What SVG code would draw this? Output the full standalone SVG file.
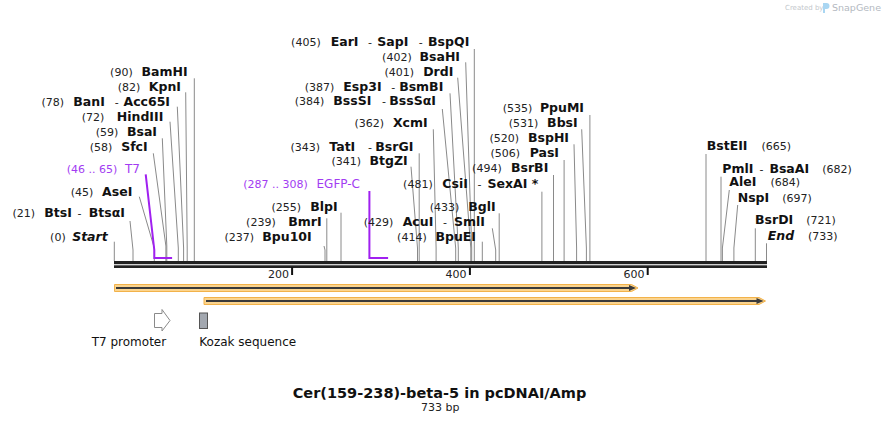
<svg xmlns="http://www.w3.org/2000/svg" width="882" height="424" viewBox="0 0 882 424">
<style>
text{font-family:"DejaVu Sans",Verdana,sans-serif}
.n{font-size:11px;font-weight:normal;font-style:normal;fill:#222}
.b{font-size:12.5px;font-weight:bold;fill:#111}
.bi{font-size:12.5px;font-weight:bold;font-style:italic;fill:#111}
.d{font-size:11px;fill:#222}
.pn{font-size:11px;fill:#a23cf2}
.pb{font-size:12px;fill:#a23cf2}
.e{text-anchor:end}
.m{text-anchor:middle}
.l{fill:none;stroke:#8a8a8a;stroke-width:1}
.pl{fill:none;stroke:#a020f0;stroke-width:2}
.tk{stroke:#111;stroke-width:2}
.ft{fill:#fbd48e;stroke:#f2b24a;stroke-width:1}
.fl{stroke:#3a3a3a;stroke-width:2}
.fh{fill:#3a3a3a}
.lab{font-size:12px;fill:#111}
</style>
<rect width="882" height="424" fill="#fff"/>
<g id="watermark">
<text x="785" y="10" style="font-size:7px;fill:#c4c8cc">Created by</text>
<path d="M823 3h3.5a3 3 0 0 1 0 6h-1.5v4h-2z" fill="#a9d6f2"/>
<text x="832" y="11" style="font-size:9.5px;fill:#b4b9bf">SnapGene</text>
</g>
<g id="connectors">
<path class="l" d="M114.3 241.7V261"/>
<path class="l" d="M130 221L133 250V261"/>
<path class="l" d="M139.3 196.7L154.3 248V261"/>
<path class="l" d="M153.3 153.3L165.9 246V261"/>
<path class="l" d="M162.3 138.3L166.8 246V261"/>
<path class="l" d="M170 121.7L178.3 248V261"/>
<path class="l" d="M177.3 106.7L183.6 248V261"/>
<path class="l" d="M185.7 92.3L187.2 248V261"/>
<path class="l" d="M194.3 78.3V261"/>
<path class="l" d="M324 246L325 250V261"/>
<path class="l" d="M326.8 218.3V261"/>
<path class="l" d="M341 212.7V261"/>
<path class="l" d="M411 166.7L417.5 248V261"/>
<path class="l" d="M419.2 153.3V261"/>
<path class="l" d="M433.3 129.3L436.1 248V261"/>
<path class="l" d="M442.3 109L455.7 248V261"/>
<path class="l" d="M450 93.3L458.3 248V261"/>
<path class="l" d="M457.7 77.7L470.8 248V261"/>
<path class="l" d="M465.7 62.3L471.7 248V261"/>
<path class="l" d="M474.3 49V261"/>
<path class="l" d="M482.3 241.7V261"/>
<path class="l" d="M492.3 228.3L495.7 250V261"/>
<path class="l" d="M499.2 213.3V261"/>
<path class="l" d="M541.9 191.7V261"/>
<path class="l" d="M553.5 175V261"/>
<path class="l" d="M564.1 160V261"/>
<path class="l" d="M574 144.3L576.6 248V261"/>
<path class="l" d="M581.7 129.3L586.4 248V261"/>
<path class="l" d="M589.9 115V261"/>
<path class="l" d="M706 154V261"/>
<path class="l" d="M721 176.7V261"/>
<path class="l" d="M729.3 190L722.4 248V261"/>
<path class="l" d="M737.7 205L733.9 248V261"/>
<path class="l" d="M755.3 228.3V261"/>
<path class="l" d="M766.5 243.3V261"/>
<path class="pl" d="M145.7 174.3L154.3 250V258H172.1"/>
<path class="pl" d="M369.4 191V258H388.1"/>
</g>
<g id="backbone">
<rect x="114" y="261" width="653" height="3.2" fill="#222"/>
<rect x="114" y="265.3" width="653" height="2.7" fill="#222"/>
<path class="tk" d="M292.1 267V275M469.9 267V275M647.7 267V275"/>
<text class="d e" x="289" y="277.5">200</text>
<text class="d e" x="466.5" y="277.5">400</text>
<text class="d e" x="644.5" y="277.5">600</text>
</g>
<g id="feature1">
<path class="ft" d="M114.5 284.5H631.5L638 288L631.5 291.5H114.5Z"/>
<path class="fl" d="M116 288H631"/>
<path class="fh" d="M629 285L636 288L629 291Z"/>
</g>
<g id="feature2">
<path class="ft" d="M204 297.5H759L765.5 301L759 304.5H204Z"/>
<path class="fl" d="M206 301H758"/>
<path class="fh" d="M756.5 298L763.5 301L756.5 304Z"/>
</g>
<g id="t7promoter">
<path d="M154.5 313.5H162V309.5L170 320.5L162 331V327.5H154.5Z" fill="#fff" stroke="#8a8a8a" stroke-width="1"/>
<text class="lab" x="91.7" y="346">T7 promoter</text>
</g>
<g id="kozak">
<rect x="199.5" y="313" width="8" height="15.5" fill="#a3a8b0" stroke="#555" stroke-width="1"/>
<text class="lab" x="199.3" y="346">Kozak sequence</text>
</g>
<g id="site-start"><text class="n e" x="65.7" y="241">(0)</text><text class="bi e" x="107.7" y="241">Start</text></g>
<g id="site-btsi"><text class="n e" x="35" y="217">(21)</text><text class="b" x="44.3" y="217">BtsI</text><text class="n m" x="79.5" y="217">-</text><text class="b e" x="125" y="217">BtsαI</text></g>
<g id="site-asei"><text class="n e" x="93.3" y="196">(45)</text><text class="b e" x="132.3" y="196">AseI</text></g>
<g id="feat-t7"><text class="pn e" x="117.3" y="172.5">(46 .. 65)</text><text class="pb e" x="140" y="172.5">T7</text></g>
<g id="site-sfci"><text class="n e" x="112.3" y="151">(58)</text><text class="b e" x="147.7" y="151">SfcI</text></g>
<g id="site-bsai"><text class="n e" x="118.3" y="136">(59)</text><text class="b e" x="157" y="136">BsaI</text></g>
<g id="site-hindiii"><text class="n e" x="104.3" y="121">(72)</text><text class="b e" x="163.3" y="121">HindIII</text></g>
<g id="site-bani"><text class="n e" x="64" y="106">(78)</text><text class="b" x="73.3" y="106">BanI</text><text class="n m" x="116.7" y="106">-</text><text class="b e" x="170" y="106">Acc65I</text></g>
<g id="site-kpni"><text class="n e" x="140.3" y="91">(82)</text><text class="b e" x="181" y="91">KpnI</text></g>
<g id="site-bamhi"><text class="n e" x="132.7" y="76">(90)</text><text class="b e" x="187.7" y="76">BamHI</text></g>
<g id="site-bpu10i"><text class="n e" x="254" y="241">(237)</text><text class="b e" x="311.7" y="241">Bpu10I</text></g>
<g id="site-bmri"><text class="n e" x="275.7" y="226">(239)</text><text class="b e" x="321.7" y="226">BmrI</text></g>
<g id="site-blpi"><text class="n e" x="301" y="211">(255)</text><text class="b e" x="337.7" y="211">BlpI</text></g>
<g id="feat-egfp"><text class="pn e" x="307.7" y="188">(287 .. 308)</text><text class="pb e" x="360" y="188">EGFP-C</text></g>
<g id="site-btgzi"><text class="n e" x="361" y="165">(341)</text><text class="b e" x="407.7" y="165">BtgZI</text></g>
<g id="site-tati"><text class="n e" x="320" y="150.7">(343)</text><text class="b" x="329.3" y="150.7">TatI</text><text class="n m" x="370" y="150.7">-</text><text class="b e" x="413.3" y="150.7">BsrGI</text></g>
<g id="site-xcmi"><text class="n e" x="384" y="127.3">(362)</text><text class="b e" x="427.7" y="127.3">XcmI</text></g>
<g id="site-bsssi"><text class="n e" x="324.3" y="105">(384)</text><text class="b" x="333.3" y="105">BssSI</text><text class="n m" x="384" y="105">-</text><text class="b e" x="436" y="105">BssSαI</text></g>
<g id="site-esp3i"><text class="n e" x="334.3" y="91">(387)</text><text class="b" x="343.3" y="91">Esp3I</text><text class="n m" x="393.3" y="91">-</text><text class="b e" x="443.3" y="91">BsmBI</text></g>
<g id="site-drdi"><text class="n e" x="414" y="76">(401)</text><text class="b e" x="453.3" y="76">DrdI</text></g>
<g id="site-bsahi"><text class="n e" x="411.7" y="61">(402)</text><text class="b e" x="460" y="61">BsaHI</text></g>
<g id="site-eari"><text class="n e" x="320.7" y="46">(405)</text><text class="b" x="330.7" y="46">EarI</text><text class="n m" x="370" y="46">-</text><text class="b" x="377.3" y="46">SapI</text><text class="n m" x="420.7" y="46">-</text><text class="b e" x="469.3" y="46">BspQI</text></g>
<g id="site-bpuei"><text class="n e" x="426.7" y="241">(414)</text><text class="b e" x="476" y="241">BpuEI</text></g>
<g id="site-acui"><text class="n e" x="393.3" y="226">(429)</text><text class="b" x="402.7" y="226">AcuI</text><text class="n m" x="445" y="226">-</text><text class="b e" x="485" y="226">SmlI</text></g>
<g id="site-bgli"><text class="n e" x="459.3" y="211">(433)</text><text class="b e" x="495.7" y="211">BglI</text></g>
<g id="site-csii"><text class="n e" x="432.7" y="187.5">(481)</text><text class="b" x="442.3" y="187.5">CsiI</text><text class="n m" x="479.5" y="187.5">-</text><text class="b e" x="538.3" y="187.5">SexAI *</text></g>
<g id="site-bsrbi"><text class="n e" x="501.7" y="171.7">(494)</text><text class="b e" x="548.3" y="171.7">BsrBI</text></g>
<g id="site-pasi"><text class="n e" x="520" y="157.3">(506)</text><text class="b e" x="559" y="157.3">PasI</text></g>
<g id="site-bsphi"><text class="n e" x="519" y="142.3">(520)</text><text class="b e" x="569" y="142.3">BspHI</text></g>
<g id="site-bbsi"><text class="n e" x="538.3" y="127.3">(531)</text><text class="b e" x="577.7" y="127.3">BbsI</text></g>
<g id="site-ppumi"><text class="n e" x="532.3" y="112.3">(535)</text><text class="b e" x="584" y="112.3">PpuMI</text></g>
<g id="site-bsteii"><text class="b" x="706.7" y="150">BstEII<tspan class="n" dx="14">(665)</tspan></text></g>
<g id="site-pmli"><text class="b" x="722.3" y="172.7">PmlI<tspan class="n" dx="6">-</tspan><tspan dx="6">BsaAI</tspan><tspan class="n" dx="13">(682)</tspan></text></g>
<g id="site-alei"><text class="b" x="729.3" y="186">AleI<tspan class="n" dx="14">(684)</tspan></text></g>
<g id="site-nspi"><text class="b" x="737.7" y="201.7">NspI<tspan class="n" dx="13">(697)</tspan></text></g>
<g id="site-bsrdi"><text class="b" x="755" y="224.3">BsrDI<tspan class="n" dx="13">(721)</tspan></text></g>
<g id="site-end"><text class="bi" x="767.7" y="240">End<tspan class="n" dx="14">(733)</tspan></text></g>
<g id="title">
<text x="439.5" y="398" text-anchor="middle" style="font-size:14.5px;font-weight:bold;fill:#111">Cer(159-238)-beta-5 in pcDNAI/Amp</text>
<text x="440.3" y="411" text-anchor="middle" style="font-size:11px;fill:#222">733 bp</text>
</g>
</svg>
